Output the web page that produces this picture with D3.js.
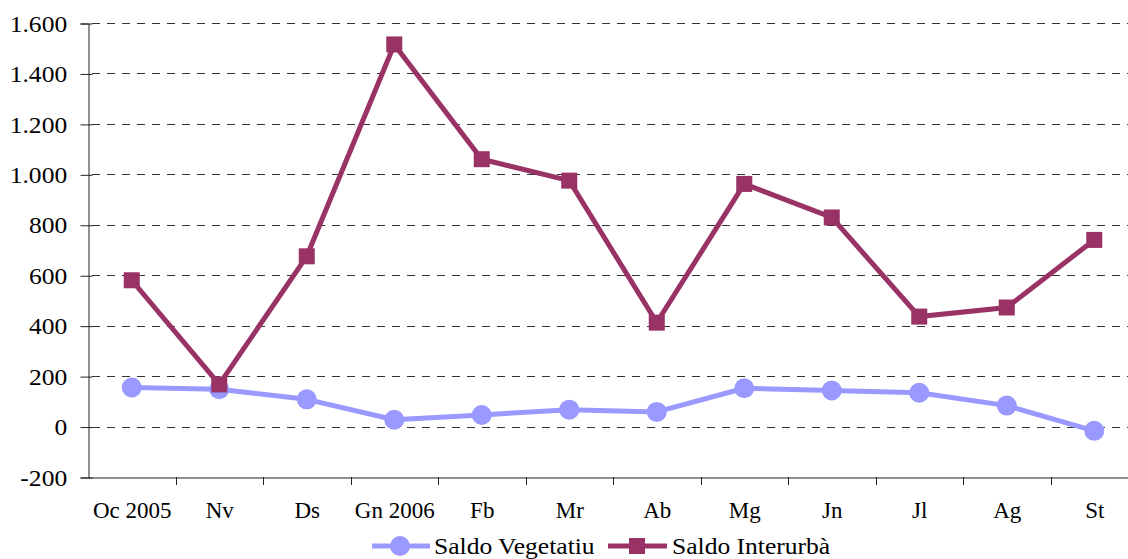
<!DOCTYPE html>
<html>
<head>
<meta charset="utf-8">
<script src="https://cdn.jsdelivr.net/npm/d3@7"></script>
<style>
  html, body { margin: 0; padding: 0; background: #fff; }
  svg text { font-family: "Times New Roman", "Liberation Serif", serif; fill: #000; }
</style>
</head>
<body>
<div id="chart"></div>
<script>
const months = ['Oc 2005', 'Nv', 'Ds', 'Gn 2006', 'Fb', 'Mr', 'Ab', 'Mg', 'Jn', 'Jl', 'Ag', 'St'];
const saldoVegetatiu = [155, 148, 108, 27, 46, 67, 58, 152, 143, 134, 83, -17];
const saldoInterurba = [580, 167, 675, 1515, 1060, 975, 412, 962, 829, 436, 472, 740];
const yTicks = [-200, 0, 200, 400, 600, 800, 1000, 1200, 1400, 1600];

const chartW = 1128;
const chartH = 559;
const plotLeft = 88;
const plotTop = 23;
const plotBottom = 477;
const step = 87.5;
const stretch = 'scale(1.065,1)'; // the source picture is a bit wider than tall

const svg = d3.select('#chart').append('svg')
  .attr('width', chartW)
  .attr('height', chartH)
  .style('display', 'block');

const x = d3.scaleBand()
  .domain(months)
  .range([plotLeft, plotLeft + months.length * step]);

const y = d3.scaleLinear()
  .domain([-200, 1600])
  .range([plotBottom, plotTop]);

// Romanian style thousands separator, plain hyphen for negatives
const fmt = d3.formatLocale({ decimal: ',', thousands: '.', grouping: [3], currency: ['', ''], minus: '-' }).format(',d');

// grid lines
svg.append('g')
  .selectAll('line')
  .data(yTicks.filter(d => d > -200))
  .enter()
  .append('line')
  .attr('x1', plotLeft + 4)
  .attr('x2', chartW)
  .attr('y1', d => Math.round(y(d)) + 0.5)
  .attr('y2', d => Math.round(y(d)) + 0.5)
  .attr('stroke', '#333')
  .attr('stroke-width', 1)
  .attr('stroke-dasharray', '8,7');

// y axis
const yAxis = svg.append('g')
  .attr('transform', `translate(${plotLeft + 0.5},0.5)`)
  .call(d3.axisLeft(y).tickValues(yTicks).tickFormat(fmt).tickSizeOuter(0).tickSize(8).tickPadding(12));
yAxis.attr('font-family', null).attr('font-size', null);
yAxis.select('.domain').attr('stroke', '#222');
yAxis.selectAll('.tick line').attr('stroke', '#222').attr('x2', 4).attr('x1', -8);
yAxis.selectAll('text')
  .style('font-size', '24px')
  .attr('fill', '#000')
  .attr('transform', stretch);

// x axis
const xAxis = svg.append('g')
  .attr('transform', `translate(0.5,${plotBottom + 0.5})`)
  .call(d3.axisBottom(x).tickSize(0).tickPadding(0));
xAxis.attr('font-family', null).attr('font-size', null);
xAxis.select('.domain').attr('stroke', '#222');
xAxis.selectAll('.tick text')
  .style('font-size', '23px')
  .attr('fill', '#000')
  .attr('y', 40)
  .attr('dy', 0);

// x tick marks on band boundaries
svg.append('g')
  .selectAll('line')
  .data(months.slice(1))
  .enter()
  .append('line')
  .attr('x1', d => Math.round(x(d)) + 0.5)
  .attr('x2', d => Math.round(x(d)) + 0.5)
  .attr('y1', plotBottom)
  .attr('y2', plotBottom + 8)
  .attr('stroke', '#222');

const cx = d => x(d) + x.bandwidth() / 2;

const line = d3.line()
  .x(d => cx(d.m))
  .y(d => y(d.v));

const veg = months.map((m, i) => ({ m, v: saldoVegetatiu[i] }));
const inter = months.map((m, i) => ({ m, v: saldoInterurba[i] }));

// Saldo Vegetatiu
svg.append('path')
  .datum(veg)
  .attr('fill', 'none')
  .attr('stroke', '#9999FF')
  .attr('stroke-width', 5)
  .attr('stroke-linejoin', 'round')
  .attr('d', line);
svg.append('g')
  .selectAll('circle')
  .data(veg)
  .enter()
  .append('circle')
  .attr('cx', d => cx(d.m))
  .attr('cy', d => y(d.v))
  .attr('r', 10)
  .attr('fill', '#9999FF');

// Saldo Interurbà
svg.append('path')
  .datum(inter)
  .attr('fill', 'none')
  .attr('stroke', '#993366')
  .attr('stroke-width', 5)
  .attr('stroke-linejoin', 'miter')
  .attr('d', line);
svg.append('g')
  .selectAll('rect')
  .data(inter)
  .enter()
  .append('rect')
  .attr('x', d => cx(d.m) - 8)
  .attr('y', d => y(d.v) - 8)
  .attr('width', 16)
  .attr('height', 16)
  .attr('fill', '#993366');

// legend
const legend = svg.append('g').attr('transform', 'translate(0,546)');
legend.append('line')
  .attr('x1', 372).attr('x2', 430).attr('y1', 0).attr('y2', 0)
  .attr('stroke', '#9999FF').attr('stroke-width', 5);
legend.append('circle')
  .attr('cx', 400).attr('cy', 0).attr('r', 10).attr('fill', '#9999FF');
legend.append('g')
  .attr('transform', 'translate(434,8)')
  .append('text')
  .attr('transform', stretch)
  .style('font-size', '24px')
  .text('Saldo Vegetatiu');
legend.append('line')
  .attr('x1', 608).attr('x2', 667).attr('y1', 0).attr('y2', 0)
  .attr('stroke', '#993366').attr('stroke-width', 5);
legend.append('rect')
  .attr('x', 629).attr('y', -8).attr('width', 16).attr('height', 16)
  .attr('fill', '#993366');
legend.append('g')
  .attr('transform', 'translate(672,8)')
  .append('text')
  .attr('transform', stretch)
  .style('font-size', '24px')
  .text('Saldo Interurbà');
</script>
</body>
</html>
